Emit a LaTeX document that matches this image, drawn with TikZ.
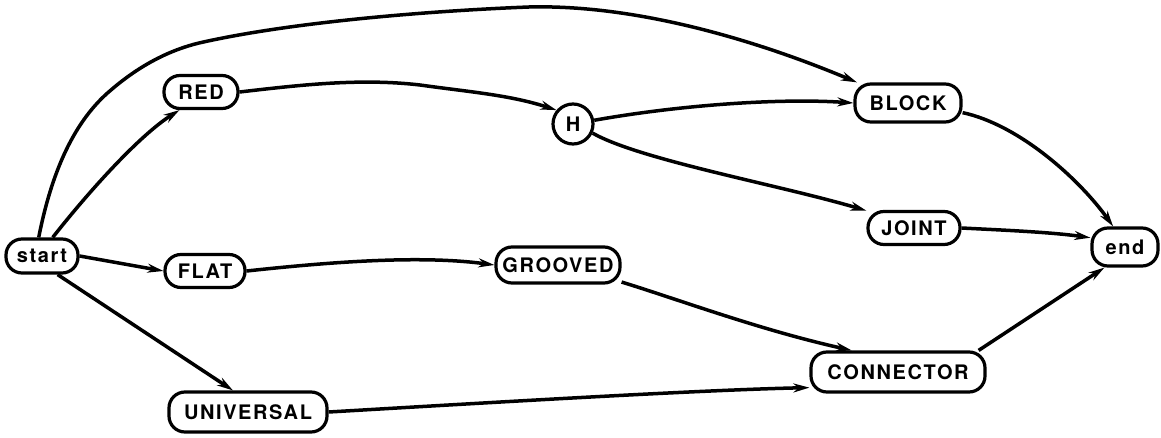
\documentclass[tikz,border=0pt]{standalone}
\usepackage{fontspec}
\setmainfont{TeX Gyre Heros}[LetterSpace=8]
\usetikzlibrary{arrows.meta}
\begin{document}
\begin{tikzpicture}[x=1pt,y=-1pt,
  box/.style={draw,rectangle,rounded corners=16pt,line width=3.2pt,
    inner xsep=4pt,inner ysep=0pt,font=\fontsize{20}{23}\selectfont\bfseries},
  edge/.style={line width=3.5pt,-{Stealth[length=16pt,width=9pt]}}]
\useasboundingbox[fill=white] (0,0) rectangle (1161,438);
\node[box,minimum width=72pt,minimum height=34pt] (start) at (42,256) {start};
\node[box,minimum width=74pt,minimum height=33pt] (RED) at (201,92) {RED};
\node[box,minimum width=80pt,minimum height=33pt] (FLAT) at (205,271) {FLAT};
\node[box,minimum width=158pt,minimum height=40pt] (UNIVERSAL) at (248,412) {UNIVERSAL};
\node[draw,circle,line width=3.2pt,inner sep=0pt,minimum size=40pt,
  font=\fontsize{20}{23}\selectfont\bfseries] (H) at (573,124) {H};
\node[box,minimum width=124pt,minimum height=36pt] (GROOVED) at (558,265) {GROOVED};
\node[box,minimum width=106pt,minimum height=38pt] (BLOCK) at (908,103) {BLOCK};
\node[box,minimum width=92pt,minimum height=33pt] (JOINT) at (914,228) {JOINT};
\node[box,minimum width=174pt,minimum height=40pt] (CONNECTOR) at (898,372) {CONNECTOR};
\node[box,minimum width=66pt,minimum height=38pt] (end) at (1125,247) {end};
% edges
\draw[edge] (start.100) .. controls (52,170) and (75,120) .. (111,90)
  .. controls (140,65) and (170,50) .. (199,43)
  .. controls (300,20) and (450,10) .. (529,7)
  .. controls (650,4) and (780,50) .. (BLOCK.158);
\draw[edge] (start.60) .. controls (90,190) and (140,135) .. (RED.220);
\draw[edge] (RED.east) .. controls (300,85) and (360,78) .. (420,85)
  .. controls (470,92) and (510,95) .. (H.140);
\draw[edge] (H.10) .. controls (680,105) and (780,98) .. (BLOCK.west);
\draw[edge] (H.-25) .. controls (640,160) and (780,185) .. (JOINT.160);
\draw[edge] (BLOCK.-10) .. controls (1020,125) and (1080,180) .. (end.120);
\draw[edge] (JOINT.east) .. controls (1000,230) and (1050,232) .. (end.165);
\draw[edge] (start.east) -- (FLAT.west);
\draw[edge] (FLAT.east) .. controls (330,262) and (420,255) .. (GROOVED.west);
\draw[edge] (GROOVED.-15) .. controls (680,300) and (760,330) .. (CONNECTOR.155);
\draw[edge] (start.-50) -- (UNIVERSAL.125);
\draw[edge] (UNIVERSAL.east) .. controls (500,402) and (700,390) .. (CONNECTOR.190);
\draw[edge] (CONNECTOR.15) -- (end.225);
\end{tikzpicture}
\end{document}
